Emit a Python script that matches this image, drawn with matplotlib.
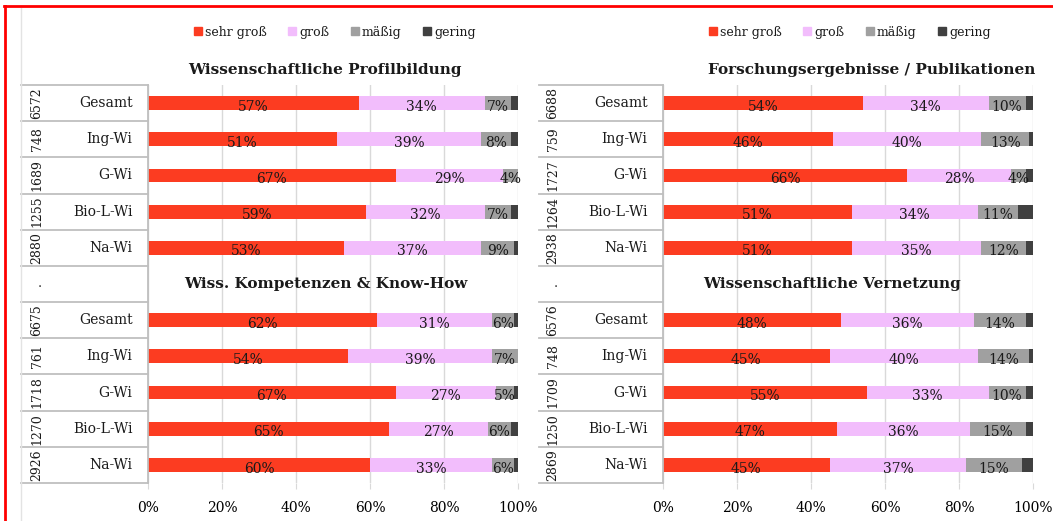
import matplotlib
matplotlib.use('Agg')
import matplotlib.pyplot as plt
import matplotlib.transforms as mtransforms
from matplotlib.lines import Line2D
from matplotlib.patches import Patch
import numpy as np

plt.rcParams['font.family'] = 'DejaVu Serif'
plt.rcParams['font.size'] = 10
plt.rcParams['text.color'] = '#1a1a1a'

levels = ["sehr groß", "groß", "mäßig", "gering"]
colors = ["#FC3C21", "#F2BDFC", "#A0A0A0", "#404040"]
groups = ["Gesamt", "Ing-Wi", "G-Wi", "Bio-L-Wi", "Na-Wi"]

# Wissenschaftliche Profilbildung
profil_n = [6572, 748, 1689, 1255, 2880]
profil_sehr = [57, 51, 67, 59, 53]
profil_gross = [34, 39, 29, 32, 37]
profil_maessig = [7, 8, 4, 7, 9]
profil_gering = [2, 2, 0, 2, 1]

# Wiss. Kompetenzen & Know-How
kompetenz_n = [6675, 761, 1718, 1270, 2926]
kompetenz_sehr = [62, 54, 67, 65, 60]
kompetenz_gross = [31, 39, 27, 27, 33]
kompetenz_maessig = [6, 7, 5, 6, 6]
kompetenz_gering = [1, 0.5, 1, 2, 1]

# Forschungsergebnisse / Publikationen
forschung_n = [6688, 759, 1727, 1264, 2938]
forschung_sehr = [54, 46, 66, 51, 51]
forschung_gross = [34, 40, 28, 34, 35]
forschung_maessig = [10, 13, 4, 11, 12]
forschung_gering = [2, 1, 2, 4, 2]

# Wissenschaftliche Vernetzung
vernetzung_n = [6576, 748, 1709, 1250, 2869]
vernetzung_sehr = [48, 45, 55, 47, 45]
vernetzung_gross = [36, 40, 33, 36, 37]
vernetzung_maessig = [14, 14, 10, 15, 15]
vernetzung_gering = [2, 1, 2, 2, 3]

W, H = 1053, 521
fig = plt.figure(figsize=(W / 100, H / 100), dpi=100)


def draw_panel(ax, top, bottom, titles, title_x, table_left, n_x):
    top_n, top_vals = top
    bot_n, bot_vals = bottom
    pos = np.r_[0:5, 6:11]
    series = [list(a) + list(b) for a, b in zip(top_vals, bot_vals)]
    trans = mtransforms.blended_transform_factory(ax.transAxes, ax.transData)

    left = np.zeros(len(pos))
    for k, (vals, c) in enumerate(zip(series, colors)):
        vals = np.array(vals, dtype=float)
        ax.barh(pos, vals, left=left, height=0.38, color=c, zorder=2)
        if k < 3:
            for p, l, v in zip(pos, left, vals):
                ax.text(l + v / 2, p + 0.1, f"{v:g}%", ha='center', va='center',
                        fontsize=10, zorder=3)
        left += vals

    ax.set_xlim(0, 100)
    ax.set_ylim(10.5, -0.5)
    ax.set_xticks(np.arange(0, 101, 20))
    ax.set_xticklabels([f"{t}%" for t in range(0, 101, 20)])
    ax.set_yticks([])
    ax.set_axisbelow(True)
    ax.xaxis.grid(True, color='#D9D9D9', lw=1)
    ax.tick_params(axis='x', length=4, color='#D9D9D9', pad=9, labelsize=10)
    for s in ['top', 'right', 'bottom']:
        ax.spines[s].set_visible(False)
    ax.spines['left'].set_color('#BFBFBF')
    ax.spines['left'].set_linewidth(1.3)

    # table on the left: sample sizes and group names
    for y in np.arange(-0.5, 11):
        ax.plot([table_left, 0], [y, y], transform=trans, color='#BFBFBF',
                lw=1.3, clip_on=False)
    n_labels = [str(n) for n in top_n] + ["."] + [str(n) for n in bot_n]
    names = groups + [""] + groups
    for y, n, name in zip(range(11), n_labels, names):
        ax.text(n_x, y, n, transform=trans, rotation=90, ha='center',
                va='center', fontsize=9)
        ax.text(-0.042, y, name, transform=trans, ha='right', va='center',
                fontsize=10)

    ax.text(title_x[0], -0.92, titles[0], transform=trans, ha='center',
            va='center', fontsize=11, fontweight='bold')
    ax.text(title_x[1], 5, titles[1], transform=trans, ha='center',
            va='center', fontsize=11, fontweight='bold')

    handles = [Patch(color=c) for c in colors]
    ax.legend(handles, levels, ncol=4, loc='center',
              bbox_to_anchor=(0.505, 1.133), frameon=False,
              handlelength=0.65, handleheight=0.65, handletextpad=0.25,
              columnspacing=1.7, fontsize=9)


bottom = 1 - 483 / H
height = 398 / H
width = 370 / W
ax1 = fig.add_axes([148 / W, bottom, width, height])
ax2 = fig.add_axes([663 / W, bottom, width, height])

draw_panel(ax1,
           (profil_n, [profil_sehr, profil_gross, profil_maessig, profil_gering]),
           (kompetenz_n, [kompetenz_sehr, kompetenz_gross, kompetenz_maessig, kompetenz_gering]),
           ["Wissenschaftliche Profilbildung", "Wiss. Kompetenzen & Know-How"],
           (0.478, 0.48), -0.343, -0.30)
draw_panel(ax2,
           (forschung_n, [forschung_sehr, forschung_gross, forschung_maessig, forschung_gering]),
           (vernetzung_n, [vernetzung_sehr, vernetzung_gross, vernetzung_maessig, vernetzung_gering]),
           ["Forschungsergebnisse / Publikationen", "Wissenschaftliche Vernetzung"],
           (0.565, 0.457), -0.335, -0.297)

# frame lines
fig.add_artist(Line2D([21 / W, 21 / W], [0, 1 - 8 / H], color='#E3E3E3', lw=1,
                      transform=fig.transFigure))
fig.add_artist(Line2D([4 / W, 1], [1 - 6 / H, 1 - 6 / H], color='#FF0000', lw=2,
                      transform=fig.transFigure))
fig.add_artist(Line2D([5 / W, 5 / W], [0, 1 - 6 / H], color='#FF0000', lw=2,
                      transform=fig.transFigure))

fig.savefig('out.png', dpi=100)
plt.close(fig)
